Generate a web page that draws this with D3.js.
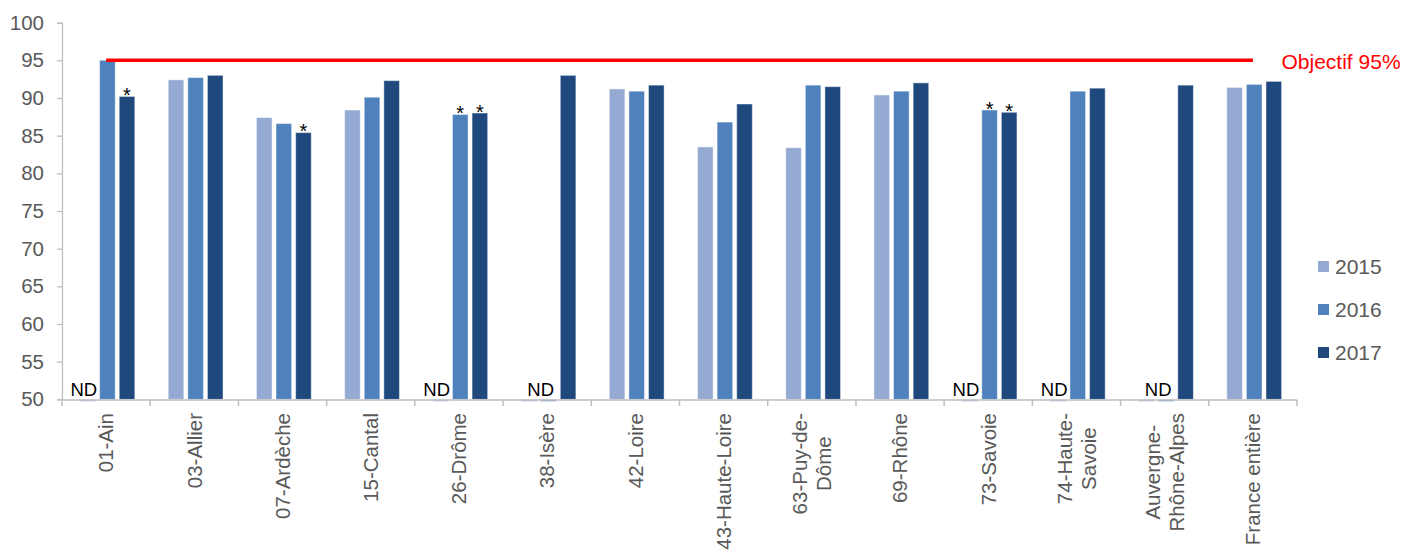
<!DOCTYPE html>
<html><head><meta charset="utf-8">
<script src="https://cdn.jsdelivr.net/npm/d3@7"></script>
<style>
html,body{margin:0;padding:0;background:#fff;}
svg{display:block;font-family:"Liberation Sans",Arial,sans-serif;}
</style></head>
<body><svg id="c" width="1403" height="551"></svg>
<script>
const categories = ["01-Ain","03-Allier","07-Ardèche","15-Cantal","26-Drôme","38-Isère","42-Loire","43-Haute-Loire","63-Puy-de-\nDôme","69-Rhône","73-Savoie","74-Haute-\nSavoie","Auvergne-\nRhône-Alpes","France entière"];
const seriesNames = ["2015","2016","2017"];
const v2015 = [null, 92.4, 87.4, 88.4, null, null, 91.2, 83.5, 83.4, 90.4, null, null, null, 91.4];
const v2016 = [95.0, 92.7, 86.6, 90.1, 87.8, null, 90.9, 86.8, 91.7, 90.9, 88.4, 90.9, null, 91.8];
const v2017 = [90.2, 93.0, 85.4, 92.3, 88.0, 93.0, 91.7, 89.2, 91.5, 92.0, 88.1, 91.3, 91.7, 92.2];
const starred2016 = ["26-Drôme","73-Savoie"];
const starred2017 = ["01-Ain","07-Ardèche","26-Drôme","73-Savoie"];
const yTicks = [50,55,60,65,70,75,80,85,90,95,100];
const objective = 95;
const objectiveLabel = "Objectif 95%";
const ndLabel = "ND";
const colors = ["#95AAD3","#4F81BD","#1F497D"];

const seriesValues = [v2015, v2016, v2017];
const svg = d3.select("#c");
const L = 62, R = 1297, T = 22.6, B = 399.4;
const gray = "#595959", axisCol = "#BFBFBF";

const x0 = d3.scaleBand().domain(categories).range([L, R]).padding(0);
const bw = x0.bandwidth();
const x1 = d3.scaleBand().domain(seriesNames).range([16, bw - 13.4]).padding(0);
const barW = 15.6;
const y = d3.scaleLinear().domain([50, 100]).range([B, T]);

// y axis
const yAxis = d3.axisLeft(y).tickValues(yTicks).tickSize(5).tickPadding(13);
const gy = svg.append("g").attr("transform", `translate(${L},0)`).call(yAxis);
gy.select(".domain").attr("stroke", axisCol).attr("stroke-width", 1.3);
gy.selectAll(".tick line").attr("stroke", axisCol).attr("stroke-width", 1.3);
gy.selectAll(".tick text").attr("fill", gray).attr("font-size", "20.5px").attr("font-family", "Liberation Sans, Arial, sans-serif");

// bars
const rows = [];
categories.forEach((c, i) => seriesNames.forEach((s, j) => rows.push({c, s, j, v: seriesValues[j][i]})));
const gb = svg.append("g");
gb.selectAll("rect.bar").data(rows.filter(d => d.v != null)).join("rect")
  .attr("class", "bar")
  .attr("x", d => x0(d.c) + x1(d.s) + (x1.bandwidth() - barW) / 2)
  .attr("width", barW)
  .attr("y", d => y(d.v))
  .attr("height", d => y(50) - y(d.v))
  .attr("fill", d => colors[d.j])
  .attr("stroke", "#ffffff").attr("stroke-opacity", 0.45).attr("stroke-width", 1);
// ND flat bars
gb.selectAll("rect.nd").data(rows.filter(d => d.v == null)).join("rect")
  .attr("class", "nd")
  .attr("x", d => x0(d.c) + x1(d.s) + (x1.bandwidth() - barW) / 2)
  .attr("width", barW)
  .attr("y", y(50) + 0.3)
  .attr("height", 1.6)
  .attr("fill", d => colors[d.j]).attr("opacity", 0.8);

// x axis
const gx = svg.append("g").attr("transform", `translate(0,${B + 0.6})`);
gx.append("line").attr("x1", L).attr("x2", R).attr("stroke", axisCol).attr("stroke-width", 1.5);
const bounds = categories.map(c => x0(c)).concat([R]);
gx.selectAll("line.tk").data(bounds).join("line").attr("class", "tk")
  .attr("x1", d => d).attr("x2", d => d).attr("y1", 0).attr("y2", 6)
  .attr("stroke", axisCol).attr("stroke-width", 1.5);

// x labels
const fs = 20.5, lh = 24;
const labG = svg.append("g");
categories.forEach(c => {
  const lines = c.split("\n");
  const cx = x0(c) + bw / 2;
  const t = labG.append("text")
    .attr("font-size", fs + "px").attr("fill", gray).attr("text-anchor", "middle");
  lines.forEach((ln, k) => {
    t.append("tspan").attr("x", 0).attr("y", (k - (lines.length - 1) / 2) * lh + 7.3).text(ln);
  });
  let maxLen = 0;
  t.selectAll("tspan").each(function(){ maxLen = Math.max(maxLen, this.getComputedTextLength()); });
  t.attr("transform", `translate(${cx},${413 + maxLen / 2}) rotate(-90)`);
});

// ND labels
categories.forEach((c, i) => {
  const nd = seriesNames.filter((s, j) => seriesValues[j][i] == null);
  if (!nd.length) return;
  const centers = nd.map(s => x0(c) + x1(s) + x1.bandwidth() / 2);
  const m = d3.mean(centers) + (nd.length === 1 ? -4 : 2);
  svg.append("text").attr("x", m).attr("y", B - 3.8).attr("text-anchor", "middle")
    .attr("font-size", "18.5px").attr("fill", "#000").text(ndLabel);
});

// stars
const starData = [];
starred2016.forEach(c => starData.push({c, s: "2016", v: v2016[categories.indexOf(c)]}));
starred2017.forEach(c => starData.push({c, s: "2017", v: v2017[categories.indexOf(c)]}));
svg.selectAll("text.star").data(starData).join("text").attr("class", "star")
  .attr("x", d => x0(d.c) + x1(d.s) + x1.bandwidth() / 2)
  .attr("y", d => y(d.v) + 5.5)
  .attr("text-anchor", "middle").attr("font-size", "20px").attr("fill", "#000").text("*");

// objective line
svg.append("line")
  .attr("x1", x0(categories[0]) + bw / 2).attr("x2", x0(categories[categories.length - 1]) + bw / 2)
  .attr("y1", y(objective)).attr("y2", y(objective))
  .attr("stroke", "#FF0000").attr("stroke-width", 3.6);
svg.append("text").attr("x", 1281.5).attr("y", 69).attr("font-size", "21px").attr("fill", "#FF0000").text(objectiveLabel);

// legend
const lg = svg.append("g");
seriesNames.forEach((s, j) => {
  const yy = 266 + j * 43;
  lg.append("rect").attr("x", 1318).attr("y", yy - 5).attr("width", 11).attr("height", 11).attr("fill", colors[j]);
  lg.append("text").attr("x", 1335).attr("y", yy + 7.5).attr("font-size", "21px").attr("fill", gray).text(s);
});
</script></body></html>
